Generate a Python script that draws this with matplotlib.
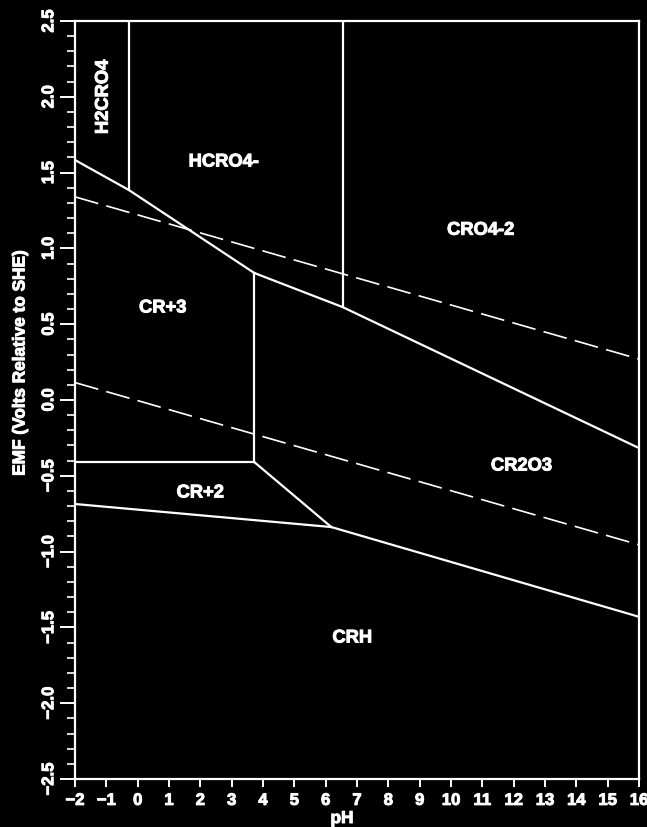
import matplotlib
matplotlib.use("Agg")
import matplotlib.pyplot as plt
import matplotlib.patheffects as pe
from matplotlib.ticker import MultipleLocator, FuncFormatter

# ---- data (pH, EMF) ----
h2cro4_bound_ph = [-0.28, -0.28]
h2cro4_bound_e = [2.5, 1.385]

cr3_upper_ph = [-2.0, -0.28, 3.72]
cr3_upper_e = [1.583, 1.385, 0.838]

cr2o3_upper_ph = [3.72, 6.54, 16.0]
cr2o3_upper_e = [0.838, 0.613, -0.317]

hcro4_bound_ph = [6.54, 6.54]
hcro4_bound_e = [2.5, 0.613]

cr3_cr2o3_ph = [3.72, 3.72]
cr3_cr2o3_e = [0.838, -0.409]

cr2_upper_ph = [-2.0, 3.72]
cr2_upper_e = [-0.409, -0.409]

cr2_right_ph = [3.72, 6.18]
cr2_right_e = [-0.409, -0.838]

crh_upper_ph = [-2.0, 6.18, 16.0]
crh_upper_e = [-0.686, -0.838, -1.43]

water_o2_ph = [-2.0, 16.0]
water_o2_e = [1.34, 0.27]
water_h2_ph = [-2.0, 16.0]
water_h2_e = [0.115, -0.955]

region_names = ["H2CRO4", "HCRO4-", "CRO4-2", "CR+3", "CR2O3", "CR+2", "CRH"]
region_ph = [-1.1, 2.75, 10.95, 0.8, 12.25, 2.0, 6.85]
region_e = [2.0, 1.57, 1.12, 0.607, -0.435, -0.613, -1.57]
region_rot = [90, 0, 0, 0, 0, 0, 0]

x_ticks = list(range(-2, 17))

plt.rcParams['font.family'] = ['Liberation Sans', 'DejaVu Sans']
plt.rcParams['font.weight'] = 'bold'

thick = [pe.withStroke(linewidth=0.7, foreground='white')]

fig = plt.figure(figsize=(6.47, 8.27), dpi=100, facecolor='black')
ax = fig.add_axes([75/647, 1-779/827, (639-75)/647, (779-21)/827])
ax.set_facecolor('black')

lw = 1.6
for px, py in [(h2cro4_bound_ph, h2cro4_bound_e), (cr3_upper_ph, cr3_upper_e),
               (cr2o3_upper_ph, cr2o3_upper_e), (hcro4_bound_ph, hcro4_bound_e),
               (cr3_cr2o3_ph, cr3_cr2o3_e), (cr2_upper_ph, cr2_upper_e),
               (cr2_right_ph, cr2_right_e), (crh_upper_ph, crh_upper_e)]:
    ax.plot(px, py, color='white', lw=lw, solid_joinstyle='miter')

dlw = 1.2
for px, py in [(water_o2_ph, water_o2_e), (water_h2_ph, water_h2_e)]:
    ax.plot(px, py, color='white', lw=dlw, dashes=(14.5, 5.0))

for name, x, y, r in zip(region_names, region_ph, region_e, region_rot):
    ax.text(x, y, name, color='white', fontsize=13.2, fontweight='bold',
            rotation=r, ha='center', va='center', path_effects=thick)

ax.set_xlim(-2, 16)
ax.set_ylim(-2.5, 2.5)
ax.set_xticks(x_ticks)
ax.yaxis.set_major_locator(MultipleLocator(0.5))
ax.yaxis.set_minor_locator(MultipleLocator(0.1))
ax.yaxis.set_major_formatter(FuncFormatter(lambda v, p: f"{v:.1f}".replace('-', '\u2212')))
ax.xaxis.set_major_formatter(FuncFormatter(lambda v, p: f"{int(round(v))}".replace('-', '\u2212')))

for s in ax.spines.values():
    s.set_color('white')
    s.set_linewidth(1.6)

ax.tick_params(axis='x', colors='white', direction='out', length=6, width=1.4,
               labelsize=12, pad=4)
ax.tick_params(axis='y', which='major', colors='white', direction='out', length=10.5,
               width=1.4, labelsize=12, pad=3, labelrotation=90)
ax.tick_params(axis='y', which='minor', colors='white', direction='out', length=5.5,
               width=1.2)
for lab in ax.get_yticklabels() + ax.get_xticklabels():
    lab.set_fontweight('bold')
    lab.set_path_effects(thick)
for lab in ax.get_yticklabels():
    lab.set_va('center')

ax.set_xlabel('pH', color='white', fontsize=12.4, fontweight='bold', path_effects=thick)
ax.xaxis.set_label_coords((342-75)/(639-75), -(826-779)/(779-21), transform=ax.transAxes)
ax.xaxis.label.set_va('bottom')
ax.set_ylabel('EMF (Volts Relative to SHE)', color='white', fontsize=12.4,
              fontweight='bold', path_effects=thick)
ax.yaxis.set_label_coords(-(75-20)/(639-75), (779-363)/(779-21), transform=ax.transAxes)
ax.yaxis.label.set_va('center')

fig.savefig('out.png', dpi=100, facecolor='black')
